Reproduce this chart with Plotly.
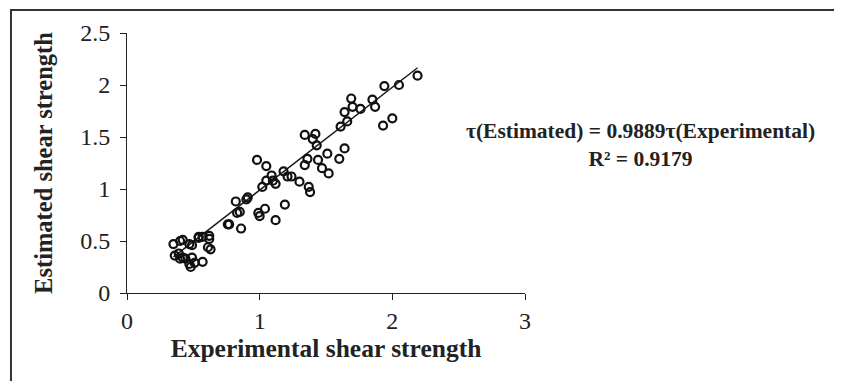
import plotly.graph_objects as go

# Experimental vs estimated shear strength
experimental = [
    2.19, 2.05, 1.94, 1.85, 1.87, 1.76, 2.00, 1.93, 1.69, 1.70, 1.64, 1.66, 1.61,
    1.64, 1.60, 1.34, 1.42, 1.40, 1.43, 1.51, 1.36, 1.44, 1.34, 1.47, 1.52, 1.37,
    1.38, 1.30, 0.98, 1.05, 1.18, 1.09, 1.05, 1.10, 1.12, 1.21, 1.24, 1.02, 0.82,
    0.90, 0.91, 0.85, 0.99, 1.04, 1.00, 1.19, 1.12, 0.77, 0.86, 0.76, 0.83,
    0.35, 0.40, 0.47, 0.49, 0.54, 0.62, 0.62, 0.61, 0.63, 0.36, 0.39, 0.40, 0.44,
    0.49, 0.47, 0.48, 0.51, 0.57, 0.42, 0.42, 0.54, 0.57,
]
estimated = [
    2.09, 2.00, 1.99, 1.86, 1.79, 1.77, 1.68, 1.61, 1.87, 1.79, 1.74, 1.65, 1.60,
    1.39, 1.29, 1.52, 1.53, 1.48, 1.42, 1.34, 1.29, 1.28, 1.23, 1.20, 1.15, 1.02,
    0.97, 1.07, 1.28, 1.22, 1.17, 1.13, 1.08, 1.08, 1.05, 1.12, 1.12, 1.02, 0.88,
    0.90, 0.92, 0.78, 0.77, 0.81, 0.74, 0.85, 0.70, 0.66, 0.62, 0.66, 0.77,
    0.47, 0.50, 0.47, 0.46, 0.54, 0.55, 0.52, 0.44, 0.42, 0.36, 0.38, 0.33, 0.33,
    0.34, 0.28, 0.25, 0.29, 0.30, 0.34, 0.51, 0.53, 0.54,
]
slope = 0.9889
fit_x = [min(experimental), max(experimental)]
fit_y = [slope * v for v in fit_x]

x_ticks = [0, 1, 2, 3]
y_ticks = [0, 0.5, 1, 1.5, 2, 2.5]

serif = "Liberation Serif, Times New Roman, serif"

fig = go.Figure()
fig.add_trace(go.Scatter(
    x=fit_x, y=fit_y, mode="lines",
    line=dict(color="#1a1a1a", width=1.5), hoverinfo="skip", showlegend=False,
))
fig.add_trace(go.Scatter(
    x=experimental, y=estimated, mode="markers",
    marker=dict(symbol="circle-open", size=8, color="#111", line=dict(width=2.2, color="#111")),
    showlegend=False,
))

axis_common = dict(
    showgrid=False, zeroline=False, showline=True, linecolor="#222", linewidth=1,
    ticks="outside", ticklen=6, tickcolor="#222", tickwidth=1,
    tickfont=dict(family=serif, size=24, color="#222"),
)
fig.update_xaxes(range=[0, 3], tickvals=x_ticks, ticktext=[str(t) for t in x_ticks],
                 title=dict(text="<b>Experimental shear strength</b>",
                            font=dict(family=serif, size=25.5, color="#222"), standoff=6),
                 **axis_common)
fig.update_yaxes(range=[0, 2.5], tickvals=y_ticks, ticktext=[f"{t:g}" for t in y_ticks],
                 ticklabelstandoff=5,
                 title=dict(text="<b>Estimated shear strength</b>",
                            font=dict(family=serif, size=24.5, color="#222"), standoff=20),
                 **axis_common)

fig.add_annotation(
    xref="paper", yref="paper", x=1.29, y=0.569, xanchor="center", yanchor="middle",
    showarrow=False,
    text="<b>τ(Estimated) = 0.9889τ(Experimental)<br>R² = 0.9179</b>",
    font=dict(family=serif, size=21.5, color="#222"), align="center",
)

# outer frame (left and top edges visible)
fig.add_shape(type="rect", xref="paper", yref="paper",
              x0=-0.2915, x1=1.85, y0=-0.4, y1=1.088,
              line=dict(color="#333", width=2), layer="below")

fig.update_layout(
    width=842, height=381,
    margin=dict(l=119, r=325, t=25, b=96),
    paper_bgcolor="white", plot_bgcolor="white",
)
fig.write_html("out.html")
